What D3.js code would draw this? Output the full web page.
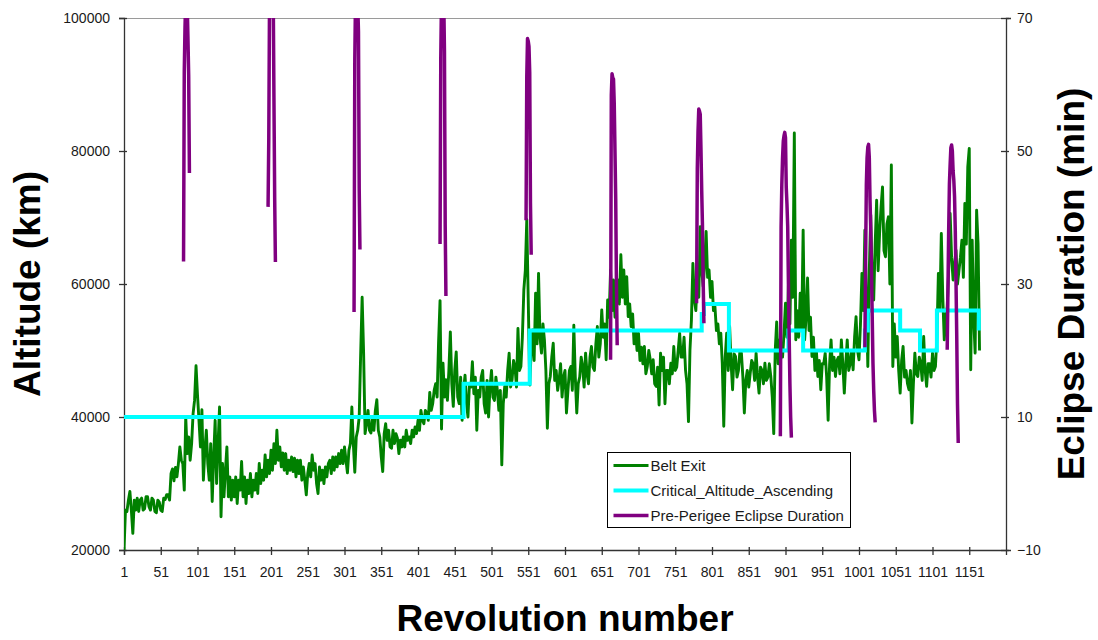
<!DOCTYPE html>
<html><head><meta charset="utf-8">
<script src="https://cdn.jsdelivr.net/npm/d3@7"></script>
<style>
html,body{margin:0;padding:0;background:#fff;}
svg{display:block;font-family:"Liberation Sans",Arial,sans-serif;}
</style>
</head><body>
<svg id="chart" width="1098" height="640"></svg>
<script>
// ---------------- data ----------------
const xTickRevs = [1,51,101,151,201,251,301,351,401,451,501,551,601,651,701,751,801,851,901,951,1001,1051,1101,1151];
const altTicks = [20000,40000,60000,80000,100000];
const eclTicks = [-10,10,30,50,70];

const seriesNames = ["Belt Exit","Critical_Altitude_Ascending","Pre-Perigee Eclipse Duration"];

// Belt Exit altitude (km), one reading every 2 revolutions starting at rev 1 (10 readings = 20 revs per row)
const beltFirstRev = 1;
const beltRevStep = 2;
const beltExitKm = [
 20000,26000,25800,27500,28800,26000,22500,27500,26000,27800,
 25800,27500,27800,26000,26200,28000,28000,26500,26000,27800,
 27500,25800,25600,27500,27200,26000,25800,27800,27600,28300,
 28300,27500,31500,32200,30400,32400,31000,33000,35500,33500,
 33000,29000,40000,34500,37000,33500,36000,40500,42500,47700,
 43300,39500,35500,41100,30500,35000,38000,33000,30500,36000,
 27300,34000,39500,30000,36000,41500,25000,33000,28000,32000,
 35500,28000,31000,27500,30500,28000,31000,27000,30500,29000,
 33300,28000,31000,27000,30500,28500,31500,28000,30500,29000,
 31500,28500,33000,30000,32000,30500,34300,31000,33500,31500,
 35000,32000,36000,33000,38000,33500,35500,32500,34600,32000,
 34500,31500,33500,32000,34000,31800,33800,31000,33500,31500,
 33500,30500,32500,30500,28300,31500,33000,31000,34300,32000,
 33000,30000,28500,32500,30500,32000,30000,32500,31000,33000,
 33500,31500,34000,32000,34000,32500,34500,33000,35000,33000,
 35500,33500,31600,35000,36000,41500,36000,31700,37000,38000,
 40000,49500,58000,49600,37500,39000,41000,38000,37600,40000,
 38000,41000,42600,38000,37000,34000,31800,37500,39000,36500,
 38000,35500,35300,38000,36000,37500,36800,34500,36500,35500,
 37000,35500,38000,36500,37000,36000,38000,37000,38500,37500,
 39500,38000,41000,39500,39000,41000,40600,39500,43700,41000,
 42000,44000,45000,43000,51300,57500,38200,48100,43000,45600,
 42500,47000,52800,45000,41600,47000,49800,43000,42000,46000,
 39500,44000,46300,42000,40000,45000,44500,48300,43500,46000,
 38000,44000,43000,46000,47000,42000,40600,45500,40000,44500,
 47000,43000,42500,46000,44000,41000,44000,32800,42000,44600,
 43000,47000,49600,44500,45600,48500,47500,44500,53300,47000,
 47600,52000,59100,62000,69700,57600,44800,50000,53100,48500,
 58600,51000,61600,52000,49600,54000,51600,47000,38300,45000,
 46100,49000,51100,45500,47000,44000,45600,48000,43000,46000,
 47000,40600,44000,47000,47600,44000,53800,46000,40600,45000,
 46000,49000,47600,44500,49600,46500,45000,49000,50600,47500,
 47000,51000,53600,49000,51000,56100,52000,54000,48600,57600,
 55000,62100,56000,60600,55000,59000,60600,57000,64400,58000,
 62100,57000,61100,55100,57000,53600,55500,51000,53000,50000,
 52600,48500,50500,48000,50600,46500,47600,50000,48600,46500,
 48600,45000,44600,47500,41800,49600,47000,49000,42000,47000,
 47000,45000,48100,46500,50600,47000,47500,50000,52600,49000,
 49000,52000,47000,45000,39300,50000,54600,63100,57600,56000,
 61100,58000,68600,62000,59600,63000,67900,61000,62100,58000,
 60400,56000,56600,53000,54000,51000,52600,48000,38600,49000,
 52600,47000,53600,48000,44100,49500,49100,46000,47000,50000,
 49600,46000,40600,45500,47000,44500,46600,48500,48000,45500,
 49600,46000,43600,47500,47000,45000,48100,45500,46000,48000,
 46100,43000,37500,50000,54300,48000,51600,49000,49000,52600,
 57100,52000,59900,54000,66600,58000,82700,51600,56000,52000,
 58600,53000,68100,51600,55000,60900,53000,55000,49100,52000,
 47000,50000,46100,48500,44100,48000,48000,49600,46000,39500,
 48000,51600,47000,49000,46100,48500,49000,46500,51600,48000,
 43600,48000,51600,47000,48000,50000,47100,52000,55100,50000,
 48600,54000,61600,56000,68100,58000,47600,62000,70400,60000,
 57600,66000,72600,62000,67600,71600,74600,65000,64100,69000,
 70100,60000,77900,47600,54000,49000,52100,47000,43600,48500,
 50600,46000,47000,45000,44100,47000,39100,45000,49600,46500,
 46100,49000,48000,45500,52100,47000,44600,48000,48000,46000,
 49600,47000,47600,52000,61600,56000,67600,58000,51600,55000,
 56600,62000,70600,64000,60600,63000,65100,60000,62000,64000,
 66600,61000,72100,66000,77600,80400,47100,66600,55000,49600,
 71100,66000,50000
];

// Critical altitude (km): value holds from each listed rev until the next
const critRevs = [1,463,553,787,790,824,905,925,1009,1013,1057,1084,1107,1164];
const critKm   = [40000,45000,53000,55500,57000,50000,53000,50000,53000,56000,53000,50000,56000,53000];

// Pre-perigee eclipse duration (min), per eclipse season: first rev + consecutive values
const eclipseStartRevs = [82,197,314,431,548,663,780,894,1009,1121];
const eclipseMin = [
 [33.4,62,68.6,73,74,72,67,61.3,46.7],
 [41.6,52,73,74,73,75,72,74,58,43,33.3],
 [25.8,63.8,73,74,73,72,68,44.4,35.2],
 [36,64.1,73,74,72,73,65,38.9,28.2],
 [39.6,61.2,66.9,66.5,65.7,61.8,42.2,34.4],
 [18.6,58.4,61.6,61,60.8,57.1,50,42.8,30,20.8],
 [27.1,47.3,53,56.3,56,55.5,50.2,44,38.9,30.3,24.1],
 [7.1,38.6,45,49,51.5,52.3,52.8,52,44.6,42,38.6,30,22,15,10,6.9],
 [20.5,34,45,49,50.6,51,49,42.6,38,31.7,25,18.1,14,11,9.2],
 [20.1,29,38,45,48,50.5,50.9,50,47,45.6,43.1,38,30.2,22,12,6.1]
];

// ---------------- chart ----------------
const colors = {belt:"#008000", crit:"#00ffff", ecl:"#800080", axis:"#333333", text:"#1a1a1a"};
const plot = {left:124, right:1006, top:18, bottom:550};

const svg = d3.select("#chart");
const x = d3.scaleLinear().domain([1,1201]).range([plot.left, plot.right]);
const yL = d3.scaleLinear().domain([20000,100000]).range([plot.bottom, plot.top]);
const yR = d3.scaleLinear().domain([-10,70]).range([plot.bottom, plot.top]);

svg.append("defs").append("clipPath").attr("id","clip")
  .append("rect").attr("x",plot.left).attr("y",plot.top)
  .attr("width",plot.right-plot.left).attr("height",plot.bottom-plot.top);

// top border
svg.append("line").attr("x1",plot.left).attr("x2",plot.right)
  .attr("y1",plot.top+0.5).attr("y2",plot.top+0.5)
  .attr("stroke","#9a9a9a").attr("stroke-width",1.2);

// axes
function styleAxis(g){
  g.select(".domain").attr("stroke",colors.axis).attr("stroke-width",1.3);
  g.selectAll(".tick line").attr("stroke",colors.axis).attr("stroke-width",1.3);
  g.selectAll(".tick text").attr("fill",colors.text).attr("font-size",14)
    .attr("font-family","'Liberation Sans',Arial,sans-serif");
}
const gL = svg.append("g").attr("transform",`translate(${plot.left},0)`)
  .call(d3.axisLeft(yL).tickValues(altTicks).tickFormat(d3.format("d")).tickSizeOuter(0).tickSize(5));
styleAxis(gL);
gL.selectAll(".tick line").attr("x1",3).attr("x2",-5);
gL.selectAll(".tick text").attr("x",-14).attr("dy","0.35em");

const gR = svg.append("g").attr("transform",`translate(${plot.right},0)`)
  .call(d3.axisRight(yR).tickValues(eclTicks).tickFormat(d3.format("d")).tickSizeOuter(0).tickSize(5));
styleAxis(gR);
gR.selectAll(".tick line").attr("x1",-5).attr("x2",3);
gR.selectAll(".tick text").attr("x",11).attr("dy","0.35em");

const gB = svg.append("g").attr("transform",`translate(0,${plot.bottom})`)
  .call(d3.axisBottom(x).tickValues(xTickRevs).tickFormat(d3.format("d")).tickSizeOuter(0).tickSize(5));
styleAxis(gB);
gB.selectAll(".tick line").attr("y1",-3).attr("y2",5);
gB.selectAll(".tick text").attr("y",17);

// series
const plotG = svg.append("g").attr("clip-path","url(#clip)");

const beltData = beltExitKm.map((v,i)=>({rev: beltFirstRev + i*beltRevStep, v}));
plotG.append("path").datum(beltData)
  .attr("fill","none").attr("stroke",colors.belt).attr("stroke-width",2.9)
  .attr("stroke-linejoin","round")
  .attr("d", d3.line().x(d=>x(d.rev)).y(d=>yL(d.v)));

const critData = critRevs.map((r,i)=>({rev:r, v:critKm[i]}));
plotG.append("path").datum(critData)
  .attr("fill","none").attr("stroke",colors.crit).attr("stroke-width",4)
  .attr("d", d3.line().curve(d3.curveStepAfter).x(d=>x(d.rev)).y(d=>yL(d.v)));

const eclLine = d3.line().x(d=>x(d.rev)).y(d=>yR(d.v));
eclipseStartRevs.forEach((start,s)=>{
  const pts = eclipseMin[s].map((v,i)=>({rev:start+i, v}));
  plotG.append("path").datum(pts)
    .attr("fill","none").attr("stroke",colors.ecl).attr("stroke-width",3.5)
    .attr("stroke-linejoin","round")
    .attr("d", eclLine);
});

// axis titles
svg.append("text").attr("transform",`translate(40,${(plot.top+plot.bottom)/2}) rotate(-90)`)
  .attr("text-anchor","middle").attr("font-size",37).attr("font-weight","bold")
  .attr("fill","#000").text("Altitude (km)");
svg.append("text").attr("transform",`translate(1084,${(plot.top+plot.bottom)/2}) rotate(-90)`)
  .attr("text-anchor","middle").attr("font-size",37).attr("font-weight","bold")
  .attr("fill","#000").text("Eclipse Duration (min)");
svg.append("text").attr("x",(plot.left+plot.right)/2).attr("y",631)
  .attr("text-anchor","middle").attr("font-size",37).attr("font-weight","bold")
  .attr("fill","#000").text("Revolution number");

// legend
const lg = svg.append("g").attr("transform","translate(607.5,452.5)");
lg.append("rect").attr("width",243).attr("height",75)
  .attr("fill","#fff").attr("stroke","#000").attr("stroke-width",1);
const legendColors = [colors.belt, colors.crit, colors.ecl];
const legendWidths = [3,4,3.5];
seriesNames.forEach((name,i)=>{
  const yy = 13 + i*25;
  lg.append("line").attr("x1",6).attr("x2",41).attr("y1",yy).attr("y2",yy)
    .attr("stroke",legendColors[i]).attr("stroke-width",legendWidths[i]);
  lg.append("text").attr("x",43).attr("y",yy).attr("dy","0.36em")
    .attr("font-size",15).attr("fill",colors.text).text(name);
});
</script>
</body></html>
